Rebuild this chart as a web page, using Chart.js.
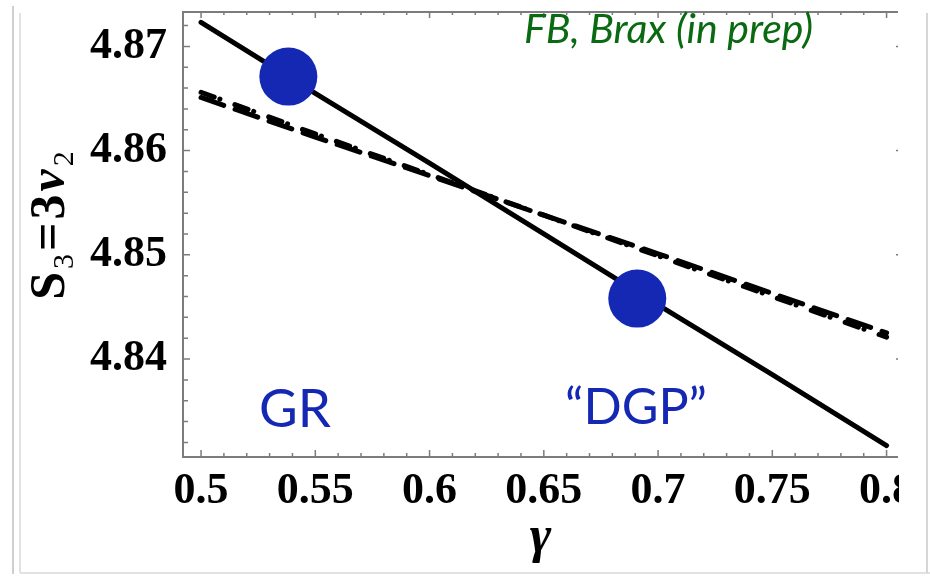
<!DOCTYPE html>
<html>
<head>
<meta charset="utf-8">
<script src="https://cdn.jsdelivr.net/npm/chart.js@4/dist/chart.umd.min.js"></script>
<style>
  html, body { margin: 0; padding: 0; background: #fff; }
  canvas { display: block; }
</style>
</head>
<body>
<canvas id="myChart" width="930" height="578"></canvas>
<script>
// values
var gamma = [0.5, 0.55, 0.6, 0.65, 0.7, 0.75, 0.8];
var s3Solid = [4.8723, 4.8655, 4.8588, 4.8520, 4.8452, 4.8385, 4.8317];
var s3Dashed = [4.8651, 4.8613, 4.8576, 4.8538, 4.8501, 4.8463, 4.8425];
var s3DotDash = [4.8656, 4.8616, 4.8577, 4.8538, 4.8499, 4.8460, 4.8421];

var modelGamma = [0.5382, 0.6909];   // GR, "DGP"
var modelS3 = [4.8671, 4.8458];

var xTicks = [0.5, 0.55, 0.6, 0.65, 0.7, 0.75, 0.8];
var yTicks = [4.84, 4.85, 4.86, 4.87];
var xMinor = [0.5, 0.51, 0.52, 0.53, 0.54, 0.55, 0.56, 0.57, 0.58, 0.59, 0.6, 0.61, 0.62, 0.63, 0.64,
  0.65, 0.66, 0.67, 0.68, 0.69, 0.7, 0.71, 0.72, 0.73, 0.74, 0.75, 0.76, 0.77, 0.78, 0.79, 0.8];
var yMinor = [4.832, 4.834, 4.836, 4.838, 4.84, 4.842, 4.844, 4.846, 4.848, 4.85, 4.852, 4.854,
  4.856, 4.858, 4.86, 4.862, 4.864, 4.866, 4.868, 4.87, 4.872];

var BLUE = '#1428b4';
var GREEN = '#0a6a12';
var SERIF = '"Liberation Serif", "Times New Roman", serif';
var SANS = 'Lato, "Open Sans", sans-serif';

function pts(xs, ys) {
  return xs.map(function(x, i) { return {x: x, y: ys[i]}; });
}

// S3 = 3 nu2, drawn in pieces so the subscripts sit right
function drawYTitle(ctx, cx, cy) {
  var parts = [
    {t: 'S', f: 'bold 50px ' + SERIF, dy: 0},
    {t: '3', f: '30px ' + SERIF, dy: 9},
    {t: '=', f: 'bold 50px ' + SERIF, dy: 0},
    {t: '3', f: 'bold 50px ' + SERIF, dy: 0},
    {t: '\u03bd', f: 'italic bold 50px ' + SERIF, dy: 0},
    {t: '2', f: '30px ' + SERIF, dy: 9}
  ];
  var total = 0;
  parts.forEach(function(p) { ctx.font = p.f; p.w = ctx.measureText(p.t).width + 3; total += p.w; });
  ctx.save();
  ctx.translate(cx, cy);
  ctx.rotate(-Math.PI / 2);
  ctx.fillStyle = '#000';
  ctx.textBaseline = 'alphabetic';
  var x = -total / 2;
  parts.forEach(function(p) {
    ctx.font = p.f;
    ctx.fillText(p.t, x, p.dy);
    x += p.w;
  });
  ctx.restore();
}

var decor = {
  id: 'decor',
  beforeDraw: function(chart) {
    var ctx = chart.ctx;
    ctx.save();
    ctx.fillStyle = '#fff';
    ctx.fillRect(0, 0, chart.width, chart.height);
    ctx.lineWidth = 2;
    ctx.strokeStyle = '#cfcfcf';
    ctx.beginPath(); ctx.moveTo(13, 6); ctx.lineTo(13, 574); ctx.stroke();
    ctx.strokeStyle = '#e2e2e2';
    ctx.beginPath(); ctx.moveTo(20, 13); ctx.lineTo(20, 573); ctx.stroke();
    ctx.beginPath(); ctx.moveTo(20, 573); ctx.lineTo(930, 573); ctx.stroke();
    ctx.strokeStyle = '#d6d6d6';
    ctx.beginPath(); ctx.moveTo(927, 13); ctx.lineTo(927, 573); ctx.stroke();
    ctx.restore();
  },
  afterDraw: function(chart) {
    var ctx = chart.ctx;
    var a = chart.chartArea;
    var xs = chart.scales.x, ys = chart.scales.y;
    ctx.save();
    // cover the part of the picture that is cut off on the right
    ctx.fillStyle = '#fff';
    ctx.fillRect(a.right + 1, 0, 926 - a.right - 1, 572);

    // frame: left, bottom, top
    ctx.strokeStyle = '#7c7c7c';
    ctx.lineWidth = 2;
    ctx.beginPath();
    ctx.moveTo(a.right, a.top); ctx.lineTo(a.left, a.top);
    ctx.lineTo(a.left, a.bottom); ctx.lineTo(a.right, a.bottom);
    ctx.stroke();

    ctx.lineWidth = 1.5;
    ctx.beginPath();
    xMinor.forEach(function(v) {
      var px = xs.getPixelForValue(v);
      var len = xTicks.indexOf(v) >= 0 ? 7 : 4;
      ctx.moveTo(px, a.bottom); ctx.lineTo(px, a.bottom - len);
      ctx.moveTo(px, a.top); ctx.lineTo(px, a.top + len - 1);
    });
    yMinor.forEach(function(v) {
      var py = ys.getPixelForValue(v);
      var len = yTicks.indexOf(v) >= 0 ? 7 : 5;
      ctx.moveTo(a.left, py); ctx.lineTo(a.left + len, py);
      if (yTicks.indexOf(v) >= 0) { ctx.moveTo(a.right, py); ctx.lineTo(a.right - 2, py); }
    });
    ctx.stroke();

    // annotations
    ctx.fillStyle = BLUE;
    ctx.textBaseline = 'alphabetic';
    ctx.font = '53px ' + SANS;
    ctx.fillText('GR', 259, 427, 74);
    ctx.font = '51px ' + SANS;
    ctx.fillText('\u201cDGP\u201d', 565, 424, 142);
    ctx.fillStyle = GREEN;
    ctx.font = 'italic 41px ' + SANS;
    ctx.fillText('FB, Brax (in prep)', 524, 43, 298);

    drawYTitle(ctx, 64, 224);
    ctx.restore();
  }
};

var ctx = document.getElementById('myChart').getContext('2d');
var chart = new Chart(ctx, {
  type: 'line',
  data: {
    datasets: [
      {
        type: 'scatter',
        data: pts(modelGamma, modelS3),
        pointRadius: 29,
        pointHoverRadius: 29,
        pointBackgroundColor: BLUE,
        pointBorderWidth: 0,
        borderWidth: 0,
        showLine: false,
        order: 0
      },
      {
        data: pts(gamma, s3Solid),
        borderColor: '#000',
        borderWidth: 5,
        borderCapStyle: 'round',
        pointRadius: 0,
        order: 1
      },
      {
        data: pts(gamma, s3Dashed),
        borderColor: '#000',
        borderWidth: 5,
        borderCapStyle: 'round',
        borderDash: [24, 12],
        pointRadius: 0,
        order: 2
      },
      {
        data: pts(gamma, s3DotDash),
        borderColor: '#000',
        borderWidth: 5,
        borderCapStyle: 'round',
        borderDash: [14, 6, 0.1, 15.9],
        pointRadius: 0,
        order: 3
      }
    ]
  },
  options: {
    responsive: false,
    animation: false,
    layout: { autoPadding: false, padding: { left: 0, right: 32, top: 12, bottom: 0 } },
    plugins: {
      legend: { display: false },
      tooltip: { enabled: false }
    },
    scales: {
      x: {
        type: 'linear',
        min: 0.4921,
        max: 0.805,
        grid: { display: false, drawTicks: false },
        border: { display: false },
        afterBuildTicks: function(s) { s.ticks = xTicks.map(function(v) { return {value: v}; }); },
        afterFit: function(s) { s.height = 121; s.paddingLeft = 0; s.paddingRight = 0; },
        ticks: {
          autoSkip: false,
          maxRotation: 0,
          padding: 8,
          color: '#000',
          font: { family: SERIF, size: 44, weight: 'bold' },
          callback: function(v) { return String(v); }
        },
        title: {
          display: true,
          text: '\u03b3',
          color: '#000',
          font: { family: SERIF, size: 52, style: 'italic', weight: 'bold' },
          padding: { top: 0, bottom: 8 }
        }
      },
      y: {
        type: 'linear',
        min: 4.8306,
        max: 4.8733,
        grid: { display: false, drawTicks: false },
        border: { display: false },
        afterBuildTicks: function(s) { s.ticks = yTicks.map(function(v) { return {value: v}; }); },
        afterFit: function(s) { s.width = 183; s.paddingTop = 0; s.paddingBottom = 0; },
        ticks: {
          padding: 16,
          color: '#000',
          font: { family: SERIF, size: 44, weight: 'bold' },
          callback: function(v) { return String(v); }
        }
      }
    }
  },
  plugins: [decor]
});
</script>
</body>
</html>
